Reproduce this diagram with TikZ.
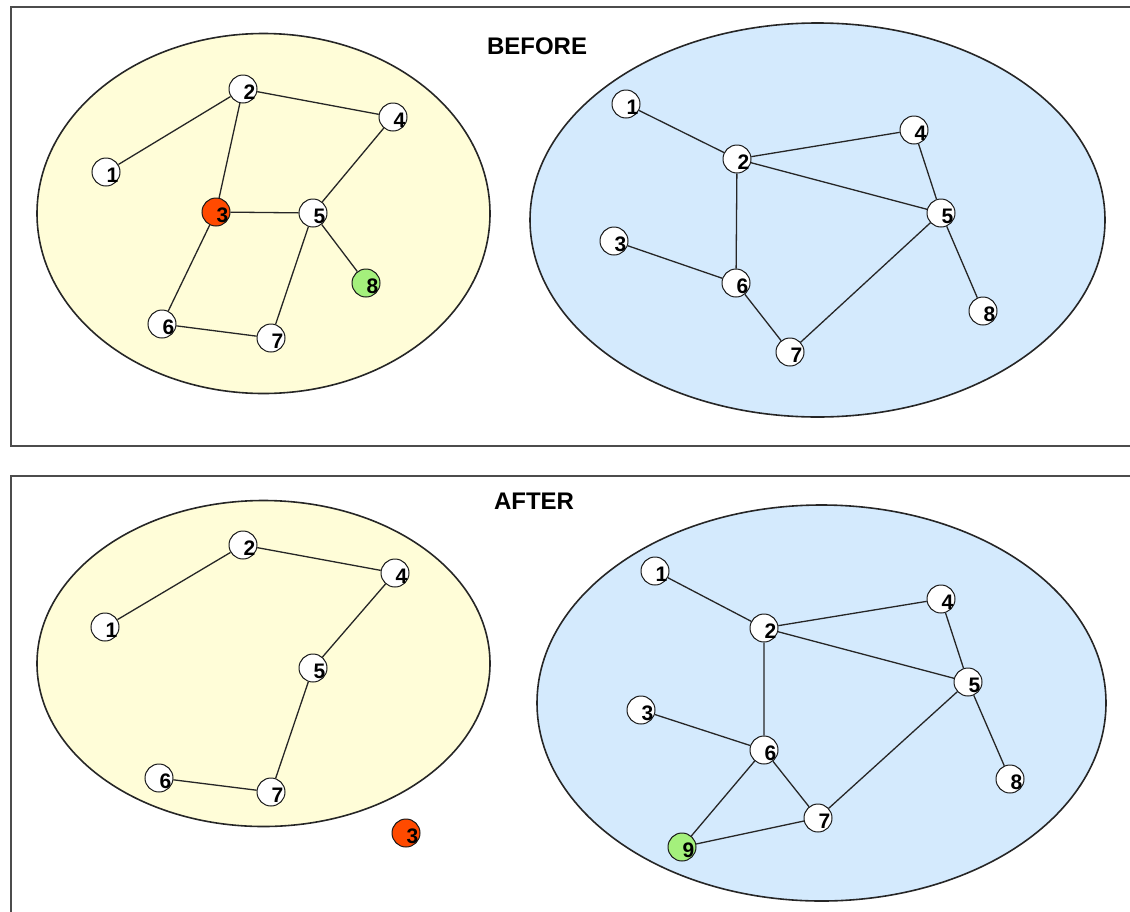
\documentclass[tikz,border=0pt]{standalone}
\usepackage{fontspec}
\setmainfont{Liberation Sans}
\begin{document}
\begin{tikzpicture}[x=1pt,y=-1pt,
  framepath/.style={draw=black!70, line width=2pt},
  yell/.style={fill=yellowfill, draw=black!85, line width=1.6pt},
  blu/.style={fill=bluefill, draw=black!85, line width=1.6pt},
  vtx/.style={circle, draw=black!90, fill=white, minimum size=28pt, inner sep=0pt, line width=1pt},
  redv/.style={vtx, fill=redfill},
  greenv/.style={vtx, fill=greenfill},
  lbl/.style={xshift=6.5pt, yshift=-3pt, inner sep=0pt, font=\fontsize{21}{21}\selectfont\bfseries},
  edge/.style={draw=black!85, line width=1.3pt},
  title/.style={font=\fontsize{24}{24}\selectfont\bfseries, inner sep=0pt}
]
\definecolor{yellowfill}{RGB}{255,253,216}
\definecolor{bluefill}{RGB}{212,234,253}
\definecolor{redfill}{RGB}{255,74,0}
\definecolor{greenfill}{RGB}{164,240,124}
\useasboundingbox (0,0) rectangle (1130,911);
\clip (0,0) rectangle (1130,911);
% frames
\draw[framepath] (1140,7) -- (11,7) -- (11,446) -- (1140,446);
\draw[framepath] (1140,476) -- (11,476) -- (11,920);
\node[title] (tb) at (537,46) {BEFORE};
\node[title] (ta) at (534,501) {AFTER};
% ellipses
\draw[yell] (263.5,213.5) ellipse [x radius=226.5, y radius=180];
\draw[blu] (817.5,220) ellipse [x radius=287.5, y radius=197];
\draw[yell] (263.5,663.5) ellipse [x radius=226.5, y radius=163];
\draw[blu] (821.5,703) ellipse [x radius=284.5, y radius=198];
% top left
\node[vtx, label={[lbl]center:1}] (tl1) at (106,172) {};
\node[vtx, label={[lbl]center:2}] (tl2) at (243,89) {};
\node[redv, label={[lbl]center:3}] (tl3) at (216,212) {};
\node[vtx, label={[lbl]center:4}] (tl4) at (393,117) {};
\node[vtx, label={[lbl]center:5}] (tl5) at (313,213) {};
\node[vtx, label={[lbl]center:6}] (tl6) at (162,324) {};
\node[vtx, label={[lbl]center:7}] (tl7) at (271,338) {};
\node[greenv, label={[lbl]center:8}] (tl8) at (366,283) {};
\path[edge] (tl1)--(tl2) (tl2)--(tl4) (tl2)--(tl3) (tl3)--(tl5) (tl4)--(tl5)
  (tl3)--(tl6) (tl5)--(tl7) (tl5)--(tl8) (tl6)--(tl7);
% top right
\node[vtx, label={[lbl]center:1}] (tr1) at (626,104) {};
\node[vtx, label={[lbl]center:2}] (tr2) at (737,159) {};
\node[vtx, label={[lbl]center:3}] (tr3) at (614,241) {};
\node[vtx, label={[lbl]center:4}] (tr4) at (914,130) {};
\node[vtx, label={[lbl]center:5}] (tr5) at (941,213) {};
\node[vtx, label={[lbl]center:6}] (tr6) at (736,283) {};
\node[vtx, label={[lbl]center:7}] (tr7) at (790,352) {};
\node[vtx, label={[lbl]center:8}] (tr8) at (983,311) {};
\path[edge] (tr1)--(tr2) (tr2)--(tr4) (tr2)--(tr5) (tr4)--(tr5) (tr2)--(tr6)
  (tr3)--(tr6) (tr6)--(tr7) (tr7)--(tr5) (tr5)--(tr8);
% bottom left
\node[vtx, label={[lbl]center:1}] (bl1) at (105,627) {};
\node[vtx, label={[lbl]center:2}] (bl2) at (243,545) {};
\node[vtx, label={[lbl]center:4}] (bl4) at (395,573) {};
\node[vtx, label={[lbl]center:5}] (bl5) at (313,668) {};
\node[vtx, label={[lbl]center:6}] (bl6) at (159,778) {};
\node[vtx, label={[lbl]center:7}] (bl7) at (271,792) {};
\node[redv, label={[lbl]center:3}] (bl3) at (406,833) {};
\path[edge] (bl1)--(bl2) (bl2)--(bl4) (bl4)--(bl5) (bl5)--(bl7) (bl6)--(bl7);
% bottom right
\node[vtx, label={[lbl]center:1}] (br1) at (655,571) {};
\node[vtx, label={[lbl]center:2}] (br2) at (764,628) {};
\node[vtx, label={[lbl]center:3}] (br3) at (641,710) {};
\node[vtx, label={[lbl]center:4}] (br4) at (941,599) {};
\node[vtx, label={[lbl]center:5}] (br5) at (968,682) {};
\node[vtx, label={[lbl]center:6}] (br6) at (764,750) {};
\node[vtx, label={[lbl]center:7}] (br7) at (818,818) {};
\node[vtx, label={[lbl]center:8}] (br8) at (1010,779) {};
\node[greenv, label={[lbl]center:9}] (br9) at (682,847) {};
\path[edge] (br1)--(br2) (br2)--(br4) (br2)--(br5) (br4)--(br5) (br2)--(br6)
  (br3)--(br6) (br6)--(br7) (br7)--(br5) (br5)--(br8) (br6)--(br9) (br9)--(br7);
\end{tikzpicture}
\end{document}
